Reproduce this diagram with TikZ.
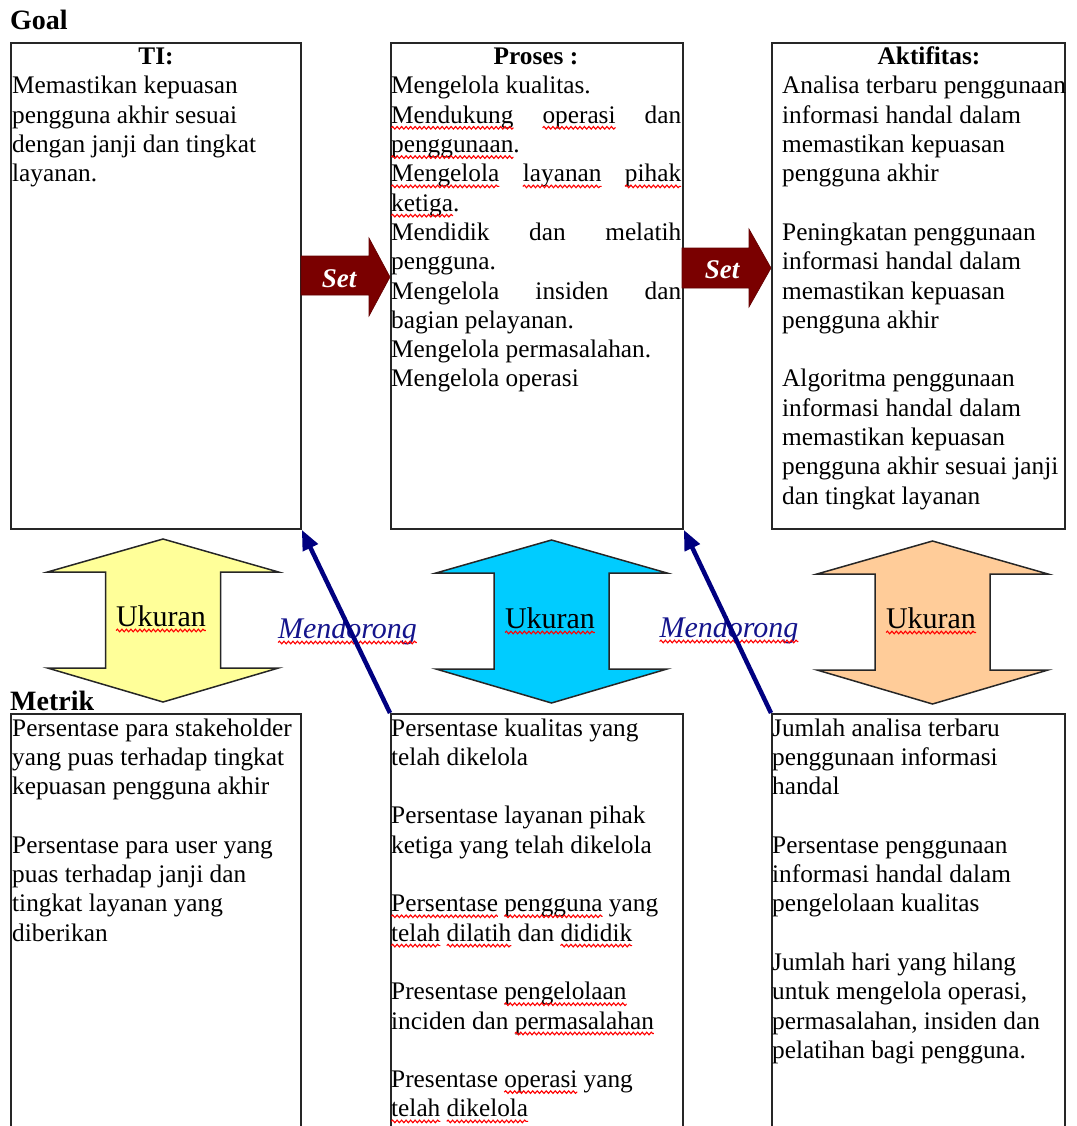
\documentclass[tikz,border=0pt]{standalone}
\usepackage{fontspec}
\setmainfont{Liberation Serif}
\usetikzlibrary{arrows.meta,decorations.pathmorphing}
\newcommand\sq[1]{\tikz[baseline=(w.base)]{\node[inner sep=0pt,outer sep=0pt,anchor=base] (w) {#1};
  \draw[overlay, red, line width=1.1pt, decorate, decoration={snake, amplitude=1.3pt, segment length=4.5pt}] ([yshift=-4.5pt]w.base west) -- ([yshift=-4.5pt]w.base east);}}
\newcommand\bodyfont{\fontsize{25.3}{29.3}\selectfont}
\newcommand\gap{\\[29.3pt]}
\definecolor{setred}{RGB}{122,0,0}
\definecolor{navyline}{RGB}{0,0,128}
\definecolor{navytext}{RGB}{20,20,140}
\definecolor{ukyellow}{RGB}{255,255,153}
\definecolor{ukcyan}{RGB}{0,204,255}
\definecolor{ukorange}{RGB}{255,204,153}
\tikzset{
  box/.style={draw=black!85, line width=1.8pt, inner sep=0pt, anchor=north west},
  txt/.style={anchor=base west, inner sep=0pt},
  ttl/.style={anchor=base, inner sep=0pt, font=\bodyfont\bfseries},
  lbl/.style={anchor=base west, inner sep=0pt, font=\fontsize{28}{30}\selectfont\bfseries},
  settext/.style={anchor=base, inner sep=0pt, text=white, font=\fontsize{27}{30}\selectfont\bfseries\itshape},
  uktext/.style={anchor=base, inner sep=0pt, font=\fontsize{30}{32}\selectfont},
  dortext/.style={anchor=base, inner sep=0pt, text=navytext, font=\fontsize{30}{32}\selectfont\itshape},
  dorong/.style={draw=navyline, line width=4.5pt, -{Triangle[length=20pt,width=16pt]}},
  setarrow/.style={fill=setred, draw=setred!80!black, line width=0.6pt},
  pics/ukuran/.style={code={
    \path[draw=black!85, line width=1.5pt, line join=miter, fill=#1]
      (0,-81.5) -- (115.5,-48.5) -- (57.5,-48.5) -- (57.5,47.5) -- (115.5,47.5)
      -- (0,81.5) -- (-115.5,47.5) -- (-57.5,47.5) -- (-57.5,-48.5) -- (-115.5,-48.5) -- cycle;
  }}
}
\begin{document}
\begin{tikzpicture}[x=1pt,y=-1pt]
\useasboundingbox (0,0) rectangle (1076,1126);

% Goal / Metrik labels
\node[lbl] (goal) at (10,30) {Goal};
\node[lbl] (metrik) at (10,710) {Metrik};

% top boxes
\node[box, minimum width=290pt, minimum height=486pt] (g1) at (10,42) {};
\node[box, minimum width=292pt, minimum height=486pt] (g2) at (390,42) {};
\node[box, minimum width=293pt, minimum height=486pt] (g3) at (771,42) {};

% bottom boxes (cut at the bottom edge)
\node[box, minimum width=290pt, minimum height=460pt] (m1) at (10,713) {};
\node[box, minimum width=292pt, minimum height=460pt] (m2) at (390,713) {};
\node[box, minimum width=293pt, minimum height=460pt] (m3) at (771,713) {};

% titles
\node[ttl] (tti) at (156,65) {TI:};
\node[ttl] (tpr) at (536,65) {Proses :};
\node[ttl] (tak) at (929,65) {Aktifitas:};

% top texts
\node[txt] (x1) at (12,94) {\parbox[t]{400pt}{\bodyfont
Memastikan kepuasan\\
pengguna akhir sesuai\\
dengan janji dan tingkat\\
layanan.}};

\node[txt] (x2) at (391,94) {\parbox[t]{290pt}{\bodyfont
Mengelola kualitas.\\
\sq{Mendukung}\hfill\sq{operasi}\hfill dan\\
\sq{penggunaan}.\\
\sq{Mengelola}\hfill\sq{layanan}\hfill\sq{pihak}\\
\sq{ketiga}.\\
Mendidik\hfill dan\hfill melatih\\
pengguna.\\
Mengelola\hfill insiden\hfill dan\\
bagian pelayanan.\\
Mengelola permasalahan.\\
Mengelola operasi}};

\node[txt] (x3) at (782,94) {\parbox[t]{400pt}{\bodyfont
Analisa terbaru penggunaan\\
informasi handal dalam\\
memastikan kepuasan\\
pengguna akhir\gap
Peningkatan penggunaan\\
informasi handal dalam\\
memastikan kepuasan\\
pengguna akhir\gap
Algoritma penggunaan\\
informasi handal dalam\\
memastikan kepuasan\\
pengguna akhir sesuai janji\\
dan tingkat layanan}};

% bottom texts
\node[txt] (y1) at (12,736) {\parbox[t]{400pt}{\bodyfont
Persentase para stakeholder\\
yang puas terhadap tingkat\\
kepuasan pengguna akhir\gap
Persentase para user yang\\
puas terhadap janji dan\\
tingkat layanan yang\\
diberikan}};

\node[txt] (y2) at (391,736) {\parbox[t]{400pt}{\bodyfont
Persentase kualitas yang\\
telah dikelola\gap
Persentase layanan pihak\\
ketiga yang telah dikelola\gap
\sq{Persentase} \sq{pengguna} yang\\
\sq{telah} \sq{dilatih} dan \sq{dididik}\gap
Presentase \sq{pengelolaan}\\
inciden dan \sq{permasalahan}\gap
Presentase \sq{operasi} yang\\
\sq{telah} \sq{dikelola}}};

\node[txt] (y3) at (772,736) {\parbox[t]{400pt}{\bodyfont
Jumlah analisa terbaru\\
penggunaan informasi\\
handal\gap
Persentase penggunaan\\
informasi handal dalam\\
pengelolaan kualitas\gap
Jumlah hari yang hilang\\
untuk mengelola operasi,\\
permasalahan, insiden dan\\
pelatihan bagi pengguna.}};

% Ukuran double arrows
\pic at (163,620.5) {ukuran=ukyellow};
\pic at (551.5,621.5) {ukuran=ukcyan};
\pic at (932.5,622.5) {ukuran=ukorange};
\node[uktext] (u1) at (161,626) {\sq{Ukuran}};
\node[uktext] (u2) at (550,628) {\sq{Ukuran}};
\node[uktext] (u3) at (931,628) {\sq{Ukuran}};

% Mendorong
\node[dortext] (d1) at (347.5,638) {\sq{Mendorong}};
\node[dortext] (d2) at (729,637) {\sq{Mendorong}};
\draw[dorong] (m2.north west) -- (g1.south east);
\draw[dorong] (m3.north west) -- (g2.south east);

% Set block arrows
\path[setarrow] (301,256) -- (369,256) -- (369,238) -- (390,277) -- (369,316) -- (369,295) -- (301,295) -- cycle;
\path[setarrow] (682,248) -- (749,248) -- (749,229) -- (771,268) -- (749,307) -- (749,288) -- (682,288) -- cycle;
\node[settext] (s1) at (339,287) {Set};
\node[settext] (s2) at (722,278) {Set};
\end{tikzpicture}
\end{document}
